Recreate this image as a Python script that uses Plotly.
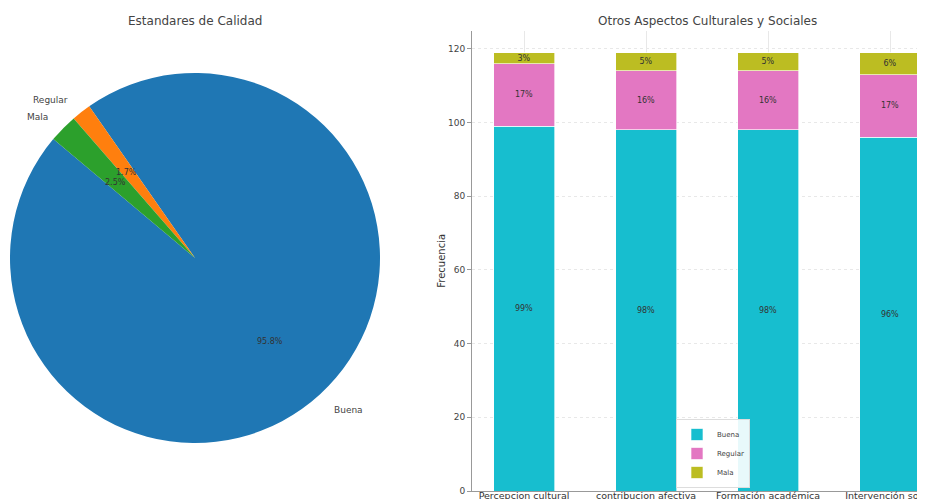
import math
import plotly.graph_objects as go

# ---- data ----
pie_labels = ["Buena", "Regular", "Mala"]
pie_values = [95.8, 1.7, 2.5]
pie_colors = ["#1f77b4", "#ff7f0e", "#2ca02c"]

bar_categories = ["Percepcion cultural", "contribucion afectiva", "Formación académica", "Intervención social"]
buena = [99, 98, 98, 96]
regular = [17, 16, 16, 17]
mala = [3, 5, 5, 6]
y_ticks = [0, 20, 40, 60, 80, 100, 120]

W, H = 925, 499
OFF = 8            # page body margin offset (screen = figure + OFF)
MB = 16
PH = H - MB        # plot-area height in figure px


def px_x(X):
    """screen x -> paper fraction"""
    return (X - OFF) / W


def px_y(Y):
    """screen y -> paper fraction"""
    return (PH - (Y - OFF)) / PH


FONT = "DejaVu Sans"
fig = go.Figure()

# ---- pie ----
cx, cy, R = 195, 258, 185       # screen px
start_angle = 140               # degrees, counterclockwise from 3 o'clock (start of first slice)
total = sum(pie_values)
# plotly ccw: first slice occupies [rotation, rotation+v0] clockwise; later slices go ccw from rotation
rotation = 90 - (start_angle + 360 * pie_values[0] / total)
rotation = ((rotation + 180) % 360) - 180
fig.add_trace(go.Pie(
    labels=pie_labels, values=pie_values, sort=False,
    direction="counterclockwise", rotation=rotation,
    marker=dict(colors=pie_colors, line=dict(width=0)),
    textinfo="none", hoverinfo="label+percent", showlegend=False,
    domain=dict(x=[px_x(cx - R), px_x(cx + R)], y=[px_y(cy + R), px_y(cy - R)]),
))

annotations = []
acc = start_angle
for lab, v in zip(pie_labels, pie_values):
    span = 360 * v / total
    mid = math.radians(acc + span / 2)
    acc += span
    c, s = math.cos(mid), math.sin(mid)
    annotations.append(dict(
        x=px_x(cx + 0.6 * R * c), y=px_y(cy - 0.6 * R * s + 2), xref="paper", yref="paper",
        text=f"{100 * v / total:.1f}%", showarrow=False,
        font=dict(family=FONT, size=8, color="#333"), xanchor="center", yanchor="middle"))
    annotations.append(dict(
        x=px_x(cx + 1.1 * R * c), y=px_y(cy - 1.1 * R * s + 2), xref="paper", yref="paper",
        text=lab, showarrow=False, font=dict(family=FONT, size=9, color="#444"),
        xanchor="left" if c > 0 else "right", yanchor="middle"))

annotations.append(dict(x=px_x(195), y=px_y(21), xref="paper", yref="paper",
                        text="Estandares de Calidad", showarrow=False,
                        font=dict(family=FONT, size=12, color="#444"),
                        xanchor="center", yanchor="middle"))
annotations.append(dict(x=px_x(707), y=px_y(21), xref="paper", yref="paper",
                        text="Otros Aspectos Culturales y Sociales", showarrow=False,
                        font=dict(family=FONT, size=12, color="#444"),
                        xanchor="center", yanchor="middle"))

# ---- stacked bars ----
for name, vals, col in [("Buena", buena, "#17becf"), ("Regular", regular, "#e377c2"), ("Mala", mala, "#bcbd22")]:
    fig.add_trace(go.Bar(
        x=list(range(len(bar_categories))), y=vals, name=name, width=0.5,
        marker=dict(color=col, line=dict(color="rgba(255,255,255,0.8)", width=0.8)),
        text=[f"{v}%" for v in vals], textposition="inside", insidetextanchor="middle",
        textangle=0, constraintext="none",
        textfont=dict(family=FONT, size=8, color="#333"),
        xaxis="x", yaxis="y",
    ))

ax_left = 472      # screen x of y-axis
cat0_x = 524       # screen x of first category
cat_step = 122     # screen px between categories
x_lo = (ax_left - cat0_x) / cat_step
x_hi = (OFF + W - cat0_x) / cat_step

fig.update_layout(
    width=W, height=H, barmode="stack",
    margin=dict(l=0, r=0, t=0, b=MB),
    paper_bgcolor="white", plot_bgcolor="white",
    font=dict(family=FONT, size=9, color="#444"),
    annotations=annotations,
    xaxis=dict(domain=[px_x(ax_left), 1], range=[x_lo, x_hi],
               tickmode="array", tickvals=list(range(len(bar_categories))), ticktext=bar_categories,
               showgrid=True, gridcolor="#e8e8e8", gridwidth=1,
               showline=True, linecolor="#999", linewidth=1, zeroline=False,
               ticks="", ticklabelstandoff=-4, ticklabeloverflow="allow",
               tickfont=dict(family=FONT, size=9.5, color="#333"), automargin=False),
    yaxis=dict(domain=[0, px_y(30.6)], range=[0, 124.95],
               tickmode="array", tickvals=y_ticks,
               showgrid=True, gridcolor="#e8e8e8", gridwidth=1, griddash="dot",
               showline=True, linecolor="#999", linewidth=1, zeroline=False,
               ticks="outside", ticklen=4, tickcolor="#999",
               tickfont=dict(family=FONT, size=9, color="#444"),
               title=dict(text="Frecuencia", font=dict(family=FONT, size=10, color="#333"), standoff=0),
               automargin=False),
    legend=dict(x=px_x(676), y=px_y(488), xanchor="left", yanchor="bottom",
                bgcolor="rgba(255,255,255,0.9)", bordercolor="#ddd", borderwidth=1,
                font=dict(family=FONT, size=7, color="#444"), tracegroupgap=0,
                itemwidth=30, traceorder="normal"),
    showlegend=True,
)

fig.write_html("out.html")
